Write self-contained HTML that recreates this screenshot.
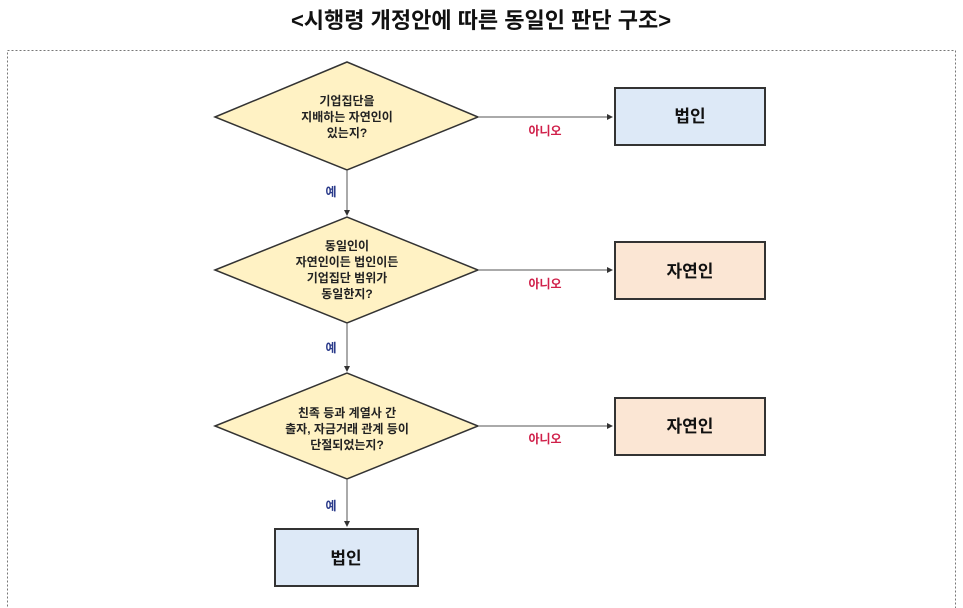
<!DOCTYPE html>
<html><head><meta charset="utf-8"><style>
html,body{margin:0;padding:0;background:#fff;width:963px;height:608px;overflow:hidden}
svg text{font-family:"Liberation Sans","Noto Sans CJK KR",sans-serif;font-weight:bold}
</style></head><body>
<svg width="963" height="608" viewBox="0 0 963 608" xmlns="http://www.w3.org/2000/svg">
<defs><marker id="a" markerWidth="6" markerHeight="6" refX="5" refY="3" orient="auto"><path d="M0,0L6,3L0,6z" fill="#333"/></marker></defs>
<text x="481" y="28" font-size="22" text-anchor="middle" fill="#111">&lt;시행령 개정안에 따른 동일인 판단 구조&gt;</text>
<rect x="7.5" y="50.5" width="948" height="570" fill="none" stroke="#777" stroke-dasharray="2,2"/>
<g stroke="#333" stroke-width="1.5" fill="#fff2c4">
<polygon points="215,117 347,62 478,117 347,170"/>
<polygon points="215,270 347,217 478,270 347,323"/>
<polygon points="215,426 347,373 478,426 347,479"/>
</g>
<g stroke="#555" stroke-width="1">
<line x1="478" y1="117" x2="612" y2="117" marker-end="url(#a)"/>
<line x1="478" y1="270" x2="612" y2="270" marker-end="url(#a)"/>
<line x1="478" y1="426" x2="612" y2="426" marker-end="url(#a)"/>
<line x1="347" y1="170" x2="347" y2="215" marker-end="url(#a)"/>
<line x1="347" y1="323" x2="347" y2="371" marker-end="url(#a)"/>
<line x1="347" y1="479" x2="347" y2="526" marker-end="url(#a)"/>
</g>
<g stroke="#333" stroke-width="2">
<rect x="615" y="88" width="150" height="57" fill="#dde9f7"/>
<rect x="615" y="242" width="150" height="57" fill="#fbe6d4"/>
<rect x="615" y="398" width="150" height="57" fill="#fbe6d4"/>
<rect x="275" y="529" width="143" height="57" fill="#dde9f7"/>
</g>
<g font-size="17" text-anchor="middle" fill="#111">
<text x="690" y="122">법인</text>
<text x="690" y="277">자연인</text>
<text x="690" y="432">자연인</text>
<text x="346" y="564">법인</text>
</g>
<g font-size="12" text-anchor="middle" fill="#222">
<text x="347" y="105">기업집단을</text>
<text x="347" y="121">지배하는 자연인이</text>
<text x="347" y="137">있는지?</text>
<text x="347" y="250">동일인이</text>
<text x="347" y="266">자연인이든 법인이든</text>
<text x="347" y="282">기업집단 범위가</text>
<text x="347" y="298">동일한지?</text>
<text x="347" y="417">친족 등과 계열사 간</text>
<text x="347" y="433">출자, 자금거래 관계 등이</text>
<text x="347" y="449">단절되었는지?</text>
</g>
<g font-size="12" fill="#d0204a" text-anchor="middle">
<text x="545" y="135">아니오</text>
<text x="545" y="288">아니오</text>
<text x="545" y="443">아니오</text>
</g>
<g font-size="12" fill="#2a3a8a" text-anchor="middle">
<text x="331" y="196">예</text>
<text x="331" y="352">예</text>
<text x="331" y="510">예</text>
</g>
</svg>
</body></html>
